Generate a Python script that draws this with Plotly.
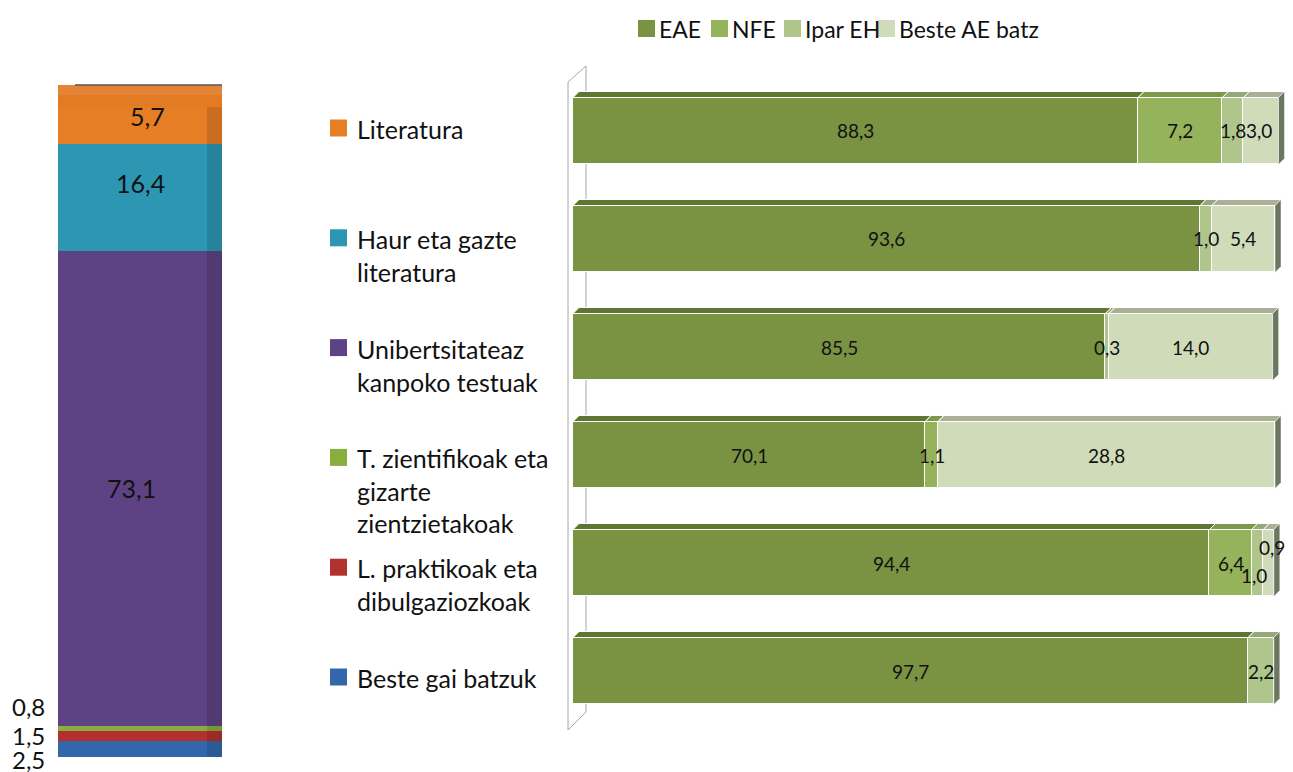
import plotly.graph_objects as go

# page is shown with an 8 px body margin -> figure is drawn 8 px smaller and
# reference pixel positions are shifted by that offset
PAGE_W, PAGE_H = 1293, 772
OFF = 8
W, H = PAGE_W - OFF, PAGE_H - OFF
FONT = "Lato, 'Noto Sans', sans-serif"

# ---------------- data: left stacked column (bottom -> top) ----------------
subjects = ["Beste gai batzuk", "L. praktikoak eta dibulgaziozkoak",
            "T. zientifikoak eta gizarte zientzietakoak",
            "Unibertsitateaz kanpoko testuak", "Haur eta gazte literatura", "Literatura"]
share = [2.5, 1.5, 0.8, 73.1, 16.4, 5.7]
share_labels = ["2,5", "1,5", "0,8", "73,1", "16,4", "5,7"]
subject_colors = ["#3268ab", "#b2312e", "#8aad3f", "#5e4384", "#2d96b2", "#e67e26"]

# legend of subjects (top -> bottom), as wrapped on the picture
legend_text = ["Literatura", "Haur eta gazte<br>literatura", "Unibertsitateaz<br>kanpoko testuak",
               "T. zientifikoak eta<br>gizarte<br>zientzietakoak",
               "L. praktikoak eta<br>dibulgaziozkoak", "Beste gai batzuk"]
legend_colors = ["#e67e26", "#2d96b2", "#5e4384", "#8aad3f", "#b2312e", "#3268ab"]

# ---------------- data: right 100% bars by origin (top -> bottom) ----------------
rows = ["Literatura", "Haur eta gazte literatura", "Unibertsitateaz kanpoko testuak",
        "T. zientifikoak eta gizarte zientzietakoak", "L. praktikoak eta dibulgaziozkoak",
        "Beste gai batzuk"]
origin_names = ["EAE", "NFE", "Ipar EH", "Beste AE batz"]
eae = [88.3, 93.6, 85.5, 70.1, 94.4, 97.7]
nfe = [7.2, 0.0, 0.0, 1.1, 3.6, 0.0]
ipar = [1.8, 1.0, 0.3, 0.0, 1.0, 2.2]
beste = [3.0, 5.4, 14.0, 28.8, 0.9, 0.0]
eae_labels = ["88,3", "93,6", "85,5", "70,1", "94,4", "97,7"]
nfe_labels = ["7,2", "", "", "1,1", "6,4", ""]
ipar_labels = ["1,8", "1,0", "0,3", "", "1,0", "2,2"]
beste_labels = ["3,0", "5,4", "14,0", "28,8", "0,9", ""]
origin_colors = ["#7a9343", "#94b35a", "#aec68b", "#cfdbb9"]
origin_top_colors = ["#5f7632", "#7d9848", "#94a87a", "#a9b096"]
side_color = "#6c7660"

X_MIN, X_MAX = 40, 101.2          # visible part of the percentage axis
PX_PER_PCT = 11.7
PX_PER_ROW = 108.0
BAR_W = 0.62


def px(x):
    return (x - OFF) / W


def py(y):
    return 1 - (y - OFF) / H


fig = go.Figure()

# ---- left stacked column ----
for name, v, c in zip(subjects, share, subject_colors):
    fig.add_trace(go.Bar(
        x=[0], y=[v], width=1, name=name, xaxis="x", yaxis="y",
        marker=dict(color=c, line=dict(width=0)), showlegend=False,
        hovertemplate=name + ": %{y}<extra></extra>"))

# ---- right stacked bars ----
series_vals = [eae, nfe, ipar, beste]
series_labels = [eae_labels, nfe_labels, ipar_labels, beste_labels]
idx = list(range(len(rows)))
for name, vals, col in zip(origin_names, series_vals, origin_colors):
    fig.add_trace(go.Bar(
        y=idx, x=vals, orientation="h", width=BAR_W, name=name, xaxis="x2", yaxis="y2",
        marker=dict(color=col, line=dict(color="white", width=1.5)), showlegend=False,
        customdata=rows, hovertemplate="%{customdata}<br>" + name + ": %{x}<extra></extra>"))

shapes = []
annotations = []

# ---- 3D look of the left column ----
LEFT_PX_PER_PCT = 6.5
top_depth = 22 / LEFT_PX_PER_PCT
total = sum(share)
shapes.append(dict(type="rect", xref="x", yref="y", x0=-0.5, x1=0.5, y0=total, y1=total + top_depth,
                   fillcolor="#e27b24", line=dict(width=0), layer="below"))
shapes.append(dict(type="rect", xref="x", yref="y", x0=-0.5, x1=0.5, y0=total + top_depth * 0.55,
                   y1=total + top_depth, fillcolor="rgba(255,255,255,0.08)", line=dict(width=0)))
shapes.append(dict(type="line", xref="x", yref="y", x0=-0.5 + 17 / 164, x1=0.5,
                   y0=total + top_depth, y1=total + top_depth, line=dict(color="#555555", width=1.5)))
shapes.append(dict(type="rect", xref="x", yref="y", x0=0.5 - 15 / 164, x1=0.5, y0=0, y1=total,
                   fillcolor="rgba(0,0,0,0.13)", line=dict(width=0), layer="above"))

# ---- left labels ----
cum = 0
left_yshift = [-11, 0, 22, 0, 14, 10]
left_xshift = [0, 0, 0, -9, 0, 7]
for k, (v, lab) in enumerate(zip(share, share_labels)):
    center = cum + v / 2
    cum += v
    if v < 5:
        annotations.append(dict(xref="paper", yref="y", x=px(28), y=center, text=lab, showarrow=False,
                                xanchor="center", yanchor="middle", yshift=left_yshift[k],
                                font=dict(size=24, color="#111111", family=FONT)))
    else:
        annotations.append(dict(xref="x", yref="y", x=0, y=center, text=lab, showarrow=False,
                                xanchor="center", yanchor="middle", xshift=left_xshift[k],
                                yshift=left_yshift[k],
                                font=dict(size=25, color="#111111", family=FONT)))

# ---- subjects legend (middle) ----
for k, (t, c) in enumerate(zip(legend_text, legend_colors)):
    yc = 128 + k * 109.8
    shapes.append(dict(type="rect", xref="paper", yref="paper", x0=px(330), x1=px(347),
                       y0=py(yc + 8.5), y1=py(yc - 8.5), fillcolor=c, line=dict(width=0)))
    annotations.append(dict(xref="paper", yref="paper", x=px(355), y=py(yc - 16), text=t,
                            showarrow=False, xanchor="left", yanchor="top", align="left",
                            font=dict(size=25, color="#111111", family=FONT)))

# ---- origin legend (top) ----
leg_x = [638, 711, 784, 878]
for name, c, x0 in zip(origin_names, origin_colors, leg_x):
    shapes.append(dict(type="rect", xref="paper", yref="paper", x0=px(x0), x1=px(x0 + 17),
                       y0=py(37), y1=py(20), fillcolor=c, line=dict(width=0)))
    annotations.append(dict(xref="paper", yref="paper", x=px(x0 + 19), y=py(29), text=name,
                            showarrow=False, xanchor="left", yanchor="middle",
                            font=dict(size=23, color="#111111", family=FONT)))

# ---- back wall edge of the 3D bar chart ----
shapes.append(dict(type="path", xref="paper", yref="paper",
                   path=f"M {px(568)},{py(730)} L {px(568)},{py(82)} L {px(586)},{py(66)} "
                        f"L {px(586)},{py(712)} Z",
                   line=dict(color="#a6a6a6", width=1), fillcolor="rgba(0,0,0,0)", layer="below"))

# ---- 3D faces + labels of right bars ----
dx = 6 / PX_PER_PCT
dy = 6 / PX_PER_ROW
label_yshift = {(4, 2): -12, (4, 3): 16}
label_xshift = {(4, 2): -3, (4, 3): 3}
for i in idx:
    start = 0.0
    yt = i - BAR_W / 2
    yb = i + BAR_W / 2
    for s, (vals, labs, tc) in enumerate(zip(series_vals, series_labels, origin_top_colors)):
        v = vals[i]
        end = start + v
        if v > 0:
            a = max(start, X_MIN)
            b = end
            shapes.append(dict(type="path", xref="x2", yref="y2",
                               path=f"M {a},{yt} L {a + dx},{yt - dy} L {b + dx},{yt - dy} L {b},{yt} Z",
                               fillcolor=tc, line=dict(color="white", width=1)))
            if labs[i]:
                annotations.append(dict(xref="x2", yref="y2", x=(a + min(b, 100)) / 2, y=i,
                                        text=labs[i], showarrow=False, xanchor="center",
                                        yanchor="middle",
                                        yshift=label_yshift.get((i, s), 0),
                                        xshift=label_xshift.get((i, s), 0),
                                        font=dict(size=19, color="#111111", family=FONT)))
        start = end
    shapes.append(dict(type="path", xref="x2", yref="y2",
                       path=f"M {start},{yt} L {start + dx},{yt - dy} L {start + dx},{yb - dy} L {start},{yb} Z",
                       fillcolor=side_color, line=dict(color="white", width=0.5)))

fig.update_layout(
    width=W, height=H, margin=dict(l=0, r=0, t=0, b=0),
    paper_bgcolor="white", plot_bgcolor="rgba(0,0,0,0)",
    barmode="stack", bargap=0, showlegend=False,
    font=dict(family=FONT, size=20, color="#111111"),
    xaxis=dict(domain=[px(58), px(222)], range=[-0.5, 0.5], visible=False, anchor="y", fixedrange=True),
    yaxis=dict(domain=[py(757), py(81)], range=[0, 104], visible=False, anchor="x", fixedrange=True),
    xaxis2=dict(domain=[px(573), px(573 + (X_MAX - X_MIN) * PX_PER_PCT)], range=[X_MIN, X_MAX],
                visible=False, anchor="y2", fixedrange=True),
    yaxis2=dict(domain=[py(725), py(77)], range=[5.5, -0.5], visible=False, anchor="x2", fixedrange=True),
    shapes=shapes, annotations=annotations,
)

fig.write_html("out.html", include_plotlyjs=True, config={"displayModeBar": False})
